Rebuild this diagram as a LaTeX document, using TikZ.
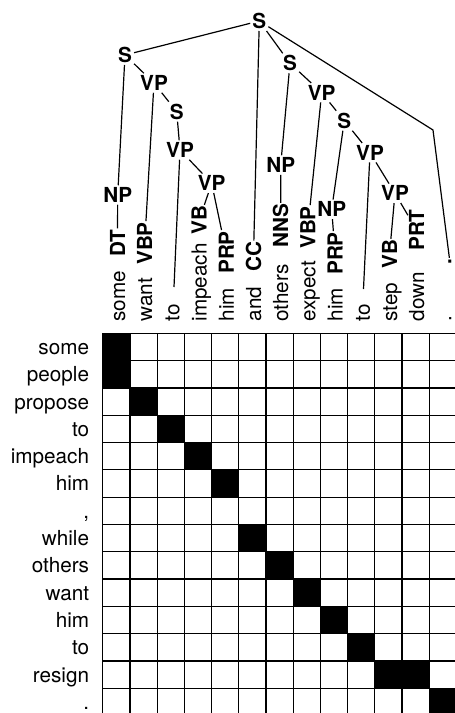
\documentclass[tikz,border=0pt]{standalone}
\usepackage{fontspec}
\setmainfont{TeX Gyre Heros}
\tikzset{
  lab/.style={font=\fontsize{20.7}{24}\selectfont, inner sep=0pt},
  wordlab/.style={lab, rotate=90, anchor=base west},
  rowlab/.style={lab, anchor=base east},
  taglab/.style={font=\fontsize{20.7}{24}\selectfont\bfseries, rotate=90, anchor=base west, inner sep=1pt},
  cat/.style={font=\fontsize{20.7}{24}\selectfont\bfseries, inner sep=2pt},
  edge/.style={line width=1.2pt},
  gridline/.style={line width=1.2pt},
}
\begin{document}
\begin{tikzpicture}[x=1pt,y=-1pt]
\useasboundingbox (0,0) rectangle (455,713);
\clip (0,0) rectangle (455,713);
% alignment matrix
\foreach \c/\r in {0/0,0/1,1/2,2/3,3/4,4/5,5/7,6/8,7/9,8/10,9/11,10/12,11/12,12/13}
  \fill[black] (102.7+\c*27.2, 333.3+\r*27.3) rectangle ++(27.2,27.3);
\foreach \i in {0,...,13}
  \draw[gridline] (102.7+\i*27.2,333.3) -- (102.7+\i*27.2,333.3+14*27.3);
\foreach \j in {0,...,14}
  \draw[gridline] (102.7,333.3+\j*27.3) -- (102.7+13*27.2,333.3+\j*27.3);
% row labels
\foreach \j/\t in {0/some,1/people,2/propose,3/to,4/impeach,5/him,6/{,},7/while,8/others,9/want,10/him,11/to,12/resign,13/.}
  \node[rowlab] (r\j) at (89.3, 333.3+\j*27.3+13.65+7.5) {\t};
% column words
\foreach \c/\t in {0/some,1/want,2/to,3/impeach,4/him,5/and,6/others,7/expect,8/him,9/to,10/step,11/down,12/.}
  \node[wordlab] (w\c) at (125+\c*27.2, 321.7) {\t};
% POS tags
\node[taglab] (tDT)   at (125.0,258) {DT};
\node[taglab] (tVBPa) at (152.2,266) {VBP};
\node[taglab] (tVBa)  at (206.6,236) {VB};
\node[taglab] (tPRPa) at (233.8,275) {PRP};
\node[taglab] (tCC)   at (261.0,273) {CC};
\node[taglab] (tNNS)  at (288.2,249) {NNS};
\node[taglab] (tVBPb) at (315.4,250) {VBP};
\node[taglab] (tPRPb) at (342.6,276) {PRP};
\node[taglab] (tVBb)  at (397.0,270) {VB};
\node[taglab] (tPRT)  at (424.2,252) {PRT};
\node[taglab] (tDot)  at (451.4,266) {.};
% phrase nodes
\node[cat] (S0)  at (259.3,21)    {S};
\node[cat] (S1)  at (125,55)      {S};
\node[cat] (VP1) at (154,83)      {VP};
\node[cat] (S2)  at (176.7,111.7) {S};
\node[cat] (VP2) at (180,150)     {VP};
\node[cat] (VP3) at (211.7,183.3) {VP};
\node[cat] (NP1) at (117.7,195)   {NP};
\node[cat] (S3)  at (290,63.3)    {S};
\node[cat] (VP4) at (321.7,92.7)  {VP};
\node[cat] (S4)  at (344.3,120.7) {S};
\node[cat] (VP5) at (370,152.7)   {VP};
\node[cat] (NP2) at (280.7,165)   {NP};
\node[cat] (NP3) at (331.7,209.3) {NP};
\node[cat] (VP6) at (395,193.3)   {VP};
\coordinate (toA) at (174,287);
\coordinate (toB) at (363.5,289);
\coordinate (bend) at (433,130);
% edges
\draw[edge] (S0) -- (S1);
\draw[edge] (S0) -- (tCC);
\draw[edge] (S0) -- (S3);
\draw[edge] (S0) -- (bend) -- (tDot);
\draw[edge] (S1) -- (NP1);
\draw[edge] (S1) -- (VP1);
\draw[edge] (NP1) -- (tDT);
\draw[edge] (VP1) -- (tVBPa);
\draw[edge] (VP1) -- (S2);
\draw[edge] (S2) -- (VP2);
\draw[edge] (VP2) -- (toA);
\draw[edge] (VP2) -- (VP3);
\draw[edge] (VP3) -- (tVBa);
\draw[edge] (VP3) -- (tPRPa);
\draw[edge] (S3) -- (NP2);
\draw[edge] (S3) -- (VP4);
\draw[edge] (NP2) -- (tNNS);
\draw[edge] (VP4) -- (tVBPb);
\draw[edge] (VP4) -- (S4);
\draw[edge] (S4) -- (NP3);
\draw[edge] (S4) -- (VP5);
\draw[edge] (NP3) -- (tPRPb);
\draw[edge] (VP5) -- (toB);
\draw[edge] (VP5) -- (VP6);
\draw[edge] (VP6) -- (tVBb);
\draw[edge] (VP6) -- (tPRT);
\end{tikzpicture}
\end{document}
